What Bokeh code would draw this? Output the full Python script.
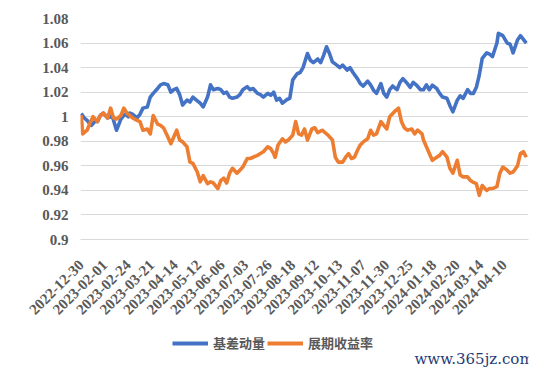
from bokeh.plotting import figure
from bokeh.models import Range1d, FixedTicker, Legend, LegendItem, Label
from bokeh.layouts import column
from bokeh.embed import file_html
from bokeh.resources import INLINE
import math

# x tick labels (every 16 trading days)
tick_idx = [0, 16, 32, 48, 64, 80, 96, 112, 128, 144, 160, 176, 192, 208, 224, 240, 256, 272, 288]
tick_labels = ["2022-12-30", "2023-02-01", "2023-02-24", "2023-03-21", "2023-04-14",
               "2023-05-12", "2023-06-06", "2023-07-03", "2023-07-26", "2023-08-18",
               "2023-09-12", "2023-10-13", "2023-11-07", "2023-11-30", "2023-12-25",
               "2024-01-18", "2024-02-20", "2024-03-14", "2024-04-10"]

# 基差动量 (trading-day index, value)
blue_idx = [0, 2, 4, 6, 7, 10, 11, 13, 15, 18, 20, 21, 23, 24, 27, 29, 30, 32, 33, 35,
            38, 40, 42, 45, 47, 49, 52, 54, 56, 59, 61, 63, 65, 67, 69, 72, 74, 76, 79, 81,
            83, 86, 88, 90, 93, 95, 97, 99, 101, 103, 106, 108, 110, 113, 115, 117, 120, 122, 124, 127,
            129, 131, 133, 135, 137, 140, 142, 144, 147, 149, 151, 154, 156, 158, 161, 163, 165, 167, 169, 171,
            174, 176, 178, 181, 183, 185, 188, 190, 192, 195, 197, 199, 201, 204, 206, 208, 210, 212, 215, 217,
            219, 222, 224, 226, 228, 231, 233, 235, 237, 239, 242, 244, 246, 249, 251, 253, 256, 258, 260, 263,
            265, 267, 269, 271, 273, 276, 278, 280, 283, 284, 287, 290, 292, 294, 297, 299, 301, 303]
blue_val = [1.0027, 0.999, 0.997, 0.994, 0.993, 0.997, 0.996, 1.001, 1.003, 0.999, 1.000, 1.001, 0.993, 0.989, 0.998, 1.001, 1.002, 1.000, 1.003, 1.002,
            0.999, 1.002, 1.007, 1.008, 1.016, 1.019, 1.023, 1.026, 1.027, 1.026, 1.020, 1.022, 1.023, 1.018, 1.0095, 1.0135, 1.012, 1.016, 1.013, 1.011,
            1.008, 1.016, 1.026, 1.022, 1.023, 1.022, 1.019, 1.020, 1.016, 1.015, 1.016, 1.018, 1.022, 1.0245, 1.022, 1.023, 1.019, 1.018, 1.016, 1.019,
            1.0175, 1.020, 1.0135, 1.015, 1.011, 1.014, 1.015, 1.030, 1.035, 1.036, 1.040, 1.0515, 1.046, 1.044, 1.047, 1.044, 1.050, 1.057, 1.0515, 1.0447,
            1.042, 1.040, 1.042, 1.038, 1.040, 1.036, 1.031, 1.027, 1.025, 1.029, 1.026, 1.0216, 1.019, 1.027, 1.019, 1.016, 1.022, 1.025, 1.022, 1.028,
            1.031, 1.027, 1.024, 1.028, 1.026, 1.022, 1.022, 1.026, 1.022, 1.0257, 1.023, 1.019, 1.016, 1.015, 1.009, 1.004, 1.0135, 1.017, 1.015, 1.022,
            1.019, 1.019, 1.024, 1.034, 1.0475, 1.052, 1.051, 1.049, 1.060, 1.068, 1.066, 1.060, 1.059, 1.052, 1.0625, 1.066, 1.063, 1.060]

# 展期收益率 (trading-day index, value)
orange_idx = [0, 1, 4, 6, 8, 11, 13, 15, 18, 20, 22, 24, 27, 29, 31, 33, 35, 38, 40, 42,
              45, 47, 49, 52, 54, 56, 59, 61, 63, 65, 67, 69, 72, 74, 76, 79, 81, 83, 86, 88,
              90, 93, 95, 97, 99, 101, 103, 106, 108, 110, 113, 115, 117, 120, 122, 124, 127, 129, 131, 132,
              134, 137, 139, 141, 144, 146, 148, 150, 152, 154, 157, 159, 161, 164, 166, 168, 171, 173, 175, 178,
              180, 182, 184, 186, 188, 190, 192, 195, 197, 199, 201, 204, 206, 208, 210, 214, 216, 218, 220, 222,
              225, 227, 229, 232, 233, 235, 237, 239, 242, 244, 246, 249, 251, 253, 256, 258, 260, 263, 265, 267,
              269, 271, 273, 276, 278, 280, 283, 285, 287, 290, 292, 294, 297, 299, 301, 303]
orange_val = [1.0013, 0.986, 0.989, 0.995, 1.000, 0.996, 1.001, 1.003, 0.999, 1.007, 0.999, 0.998, 1.001, 1.007, 1.003, 1.001, 0.999, 0.997, 0.996, 0.989,
              0.990, 0.986, 1.001, 0.994, 0.993, 0.991, 0.9835, 0.978, 0.9835, 0.989, 0.981, 0.9795, 0.9755, 0.963, 0.962, 0.955, 0.947, 0.952, 0.9455, 0.947,
              0.946, 0.9415, 0.948, 0.950, 0.946, 0.954, 0.958, 0.954, 0.9565, 0.959, 0.966, 0.966, 0.967, 0.9685, 0.970, 0.9715, 0.9755, 0.974, 0.970, 0.967,
              0.977, 0.982, 0.9795, 0.981, 0.985, 0.996, 0.986, 0.985, 0.990, 0.981, 0.990, 0.991, 0.987, 0.989, 0.987, 0.985, 0.981, 0.967, 0.963, 0.963,
              0.967, 0.970, 0.966, 0.967, 0.9725, 0.977, 0.9795, 0.982, 0.989, 0.985, 0.986, 0.996, 0.993, 0.990, 1.000, 1.005, 1.007, 0.996, 0.991, 0.989,
              0.990, 0.986, 0.989, 0.986, 0.981, 0.9755, 0.970, 0.9645, 0.967, 0.9685, 0.9715, 0.967, 0.958, 0.954, 0.9645, 0.9525, 0.951, 0.951, 0.948, 0.9465,
              0.9455, 0.936, 0.944, 0.940, 0.9415, 0.9415, 0.943, 0.954, 0.959, 0.9565, 0.954, 0.955, 0.960, 0.970, 0.9715, 0.967]

y_ticks = [0.9, 0.92, 0.94, 0.96, 0.98, 1.0, 1.02, 1.04, 1.06, 1.08]
y_tick_labels = ["0.9", "0.92", "0.94", "0.96", "0.98", "1", "1.02", "1.04", "1.06", "1.08"]

series_names = ["基差动量", "展期收益率"]
series_colors = ["#4472C4", "#ED7D31"]

W = 547
p = figure(width=W, height=322, output_backend="svg", toolbar_location=None,
           x_range=Range1d(-0.5, 304.5), y_range=Range1d(0.9, 1.08),
           min_border_left=80, min_border_right=19, min_border_top=18, min_border_bottom=83)
p.outline_line_color = None
p.background_fill_color = "white"
p.border_fill_color = "white"

gray = "#595959"
font = "Liberation Serif"

p.yaxis.ticker = FixedTicker(ticks=y_ticks)
p.yaxis.major_label_overrides = {t: s for t, s in zip(y_ticks, y_tick_labels)}
p.yaxis.axis_line_color = None
p.yaxis.major_tick_line_color = None
p.yaxis.minor_tick_line_color = None
p.yaxis.major_label_text_font = font
p.yaxis.major_label_text_font_style = "bold"
p.yaxis.major_label_text_font_size = "15px"
p.yaxis.major_label_text_color = gray
p.yaxis.major_label_standoff = 6

p.xaxis.ticker = FixedTicker(ticks=tick_idx)
p.xaxis.major_label_overrides = {t: s for t, s in zip(tick_idx, tick_labels)}
p.xaxis.major_label_orientation = math.pi / 4
p.xaxis.axis_line_color = "#D9D9D9"
p.xaxis.major_tick_line_color = None
p.xaxis.minor_tick_line_color = None
p.xaxis.major_label_text_font = font
p.xaxis.major_label_text_font_style = "bold"
p.xaxis.major_label_text_font_size = "15px"
p.xaxis.major_label_text_color = gray
p.xaxis.major_label_standoff = 17

p.xgrid.grid_line_color = None
p.ygrid.ticker = FixedTicker(ticks=y_ticks)
p.ygrid.grid_line_color = "#D9D9D9"
p.ygrid.grid_line_width = 1

p.line(blue_idx, blue_val, line_color=series_colors[0], line_width=3.6, line_join="round")
p.line(orange_idx, orange_val, line_color=series_colors[1], line_width=3.6, line_join="round")

# footer: legend + watermark (frame aligned with the chart frame, x in page px)
H2 = 47
f = figure(width=W, height=H2, output_backend="svg", toolbar_location=None,
           x_range=Range1d(80, 528), y_range=Range1d(0, H2),
           min_border=0, min_border_left=80, min_border_right=19,
           x_axis_type=None, y_axis_type=None)
f.outline_line_color = None
f.grid.visible = False
f.background_fill_color = "white"
f.border_fill_color = "white"

nan = float("nan")
k1 = f.line([nan], [nan], line_color=series_colors[0], line_width=4)
k2 = f.line([nan], [nan], line_color=series_colors[1], line_width=4)
legend = Legend(items=[LegendItem(label=series_names[0], renderers=[k1]),
                       LegendItem(label=series_names[1], renderers=[k2])],
                orientation="horizontal", location=(92, 17),
                label_text_font="Noto Sans CJK SC", label_text_font_style="bold",
                label_text_font_size="13px", label_text_color=gray,
                glyph_width=36, glyph_height=14, label_standoff=5, spacing=2,
                label_height=14,
                border_line_color=None, background_fill_alpha=0,
                margin=0, padding=0)
f.add_layout(legend)

wm = Label(x=414, y=11, text="www.365jz.com",
           text_font="DejaVu Serif", text_font_size="15px", text_color="#1f3c78",
           text_baseline="alphabetic")
f.add_layout(wm)

layout = column(p, f, spacing=0)
open("out.html", "w").write(file_html(layout, INLINE))
